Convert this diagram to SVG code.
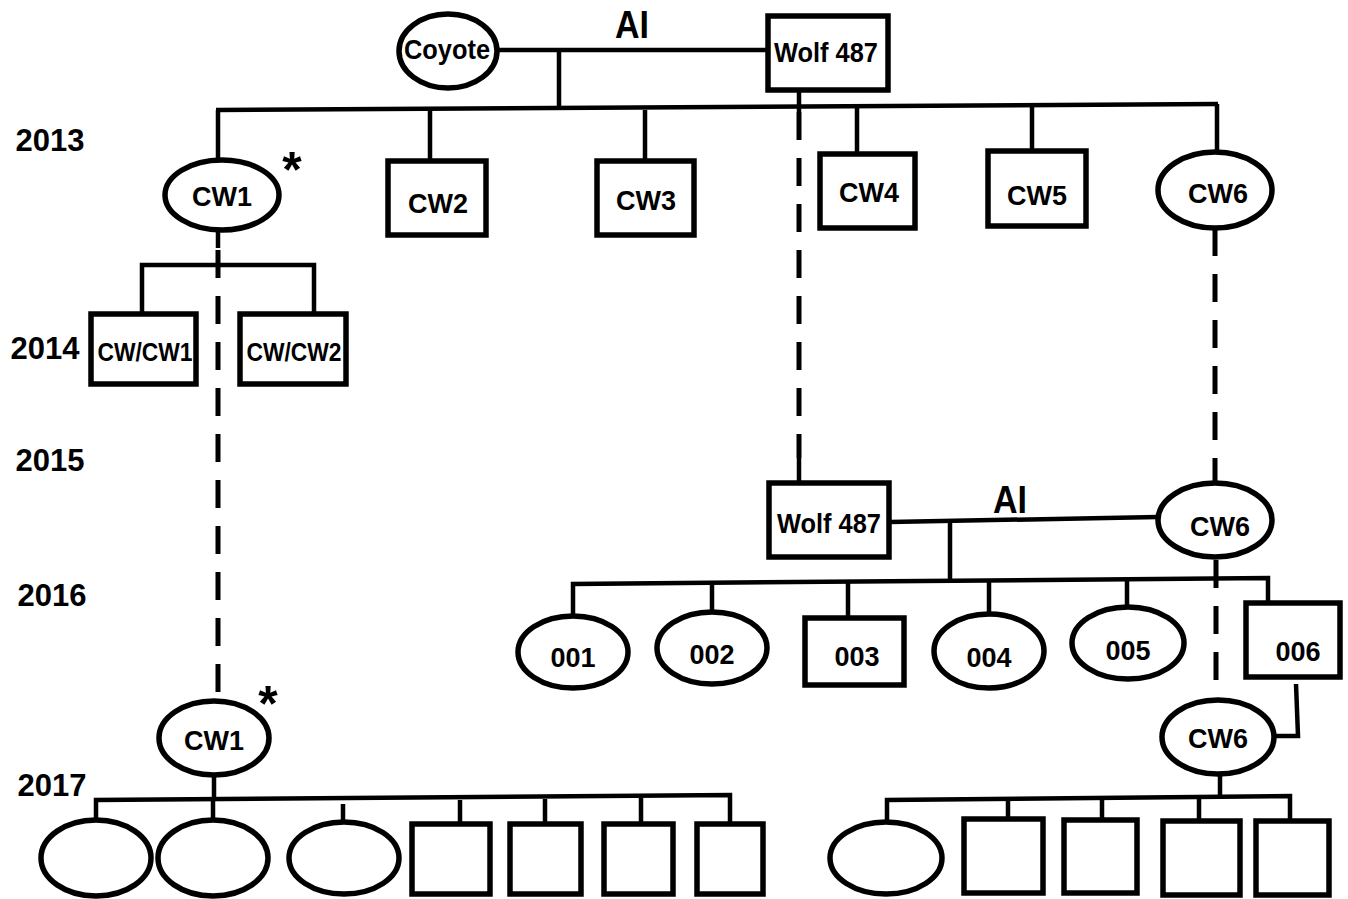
<svg xmlns="http://www.w3.org/2000/svg" width="1348" height="899" viewBox="0 0 1348 899">
<style>
.n{fill:#fff;stroke:#000;stroke-width:5.5}
.l{fill:none;stroke:#000;stroke-width:4.5}
.d{fill:none;stroke:#000;stroke-width:5;stroke-dasharray:28 18}
text{font-family:"Liberation Sans Narrow","Liberation Sans",Arial,sans-serif;font-weight:bold;fill:#000;text-anchor:middle}
.t{font-size:27px}
.y{font-size:31px}
.ai{font-size:38px}
.st{font-size:50px}
.s{font-size:25px}
</style>
<rect width="1348" height="899" fill="#fff"/>
<g id="connectors">
<path class="l" d="M497 50H768"/>
<path class="l" d="M559 50V110"/>
<path class="l" d="M799 90V112"/>
<path class="l" d="M216 110L1218 104"/>
<path class="l" d="M218 110V160M430 110V160M645 110V160M857 107V153M1032 106V150M1217 104V152"/>
<path class="l" d="M218 230V248"/>
<path class="d" d="M218 250V697"/>
<path class="l" d="M142 313V265H314V313"/>
<path class="d" d="M799 112V458"/>
<path class="l" d="M799 458V483"/>
<path class="d" d="M1215 228V483"/>
<path class="l" d="M890 522L1158 517"/>
<path class="l" d="M950 520V582"/>
<path class="l" d="M573 615V584L1268 578V603"/>
<path class="l" d="M712 583V612M848 583V618M989 582V614M1127 581V607"/>
<path class="d" d="M1216 560V700"/>
<path class="l" d="M1296 684L1298 736H1272"/>
<path class="l" d="M214 775V798"/>
<path class="l" d="M96 820V800L730 795V823"/>
<path class="l" d="M213 800V820M343 804V822M460 800V823M545 799V823M641 798V823"/>
<path class="l" d="M1220 775V797"/>
<path class="l" d="M887 822V800L1290 796V820"/>
<path class="l" d="M1008 799V818M1102 798V820M1199 798V820"/>
</g>
<g id="labels">
<text class="ai" x="632" y="38" textLength="34" lengthAdjust="spacingAndGlyphs">AI</text>
<text class="ai" x="1010" y="513" textLength="34" lengthAdjust="spacingAndGlyphs">AI</text>
<text class="y" x="50" y="151">2013</text>
<text class="y" x="45" y="359">2014</text>
<text class="y" x="50" y="471">2015</text>
<text class="y" x="52" y="606">2016</text>
<text class="y" x="52" y="796">2017</text>
<text class="st" x="292" y="187">*</text>
<text class="st" x="268" y="721">*</text>
</g>
<g id="coyote"><ellipse class="n" cx="448" cy="51" rx="49" ry="37"/><text class="t" x="447" y="59" textLength="86" lengthAdjust="spacingAndGlyphs">Coyote</text></g>
<g id="wolf487"><rect class="n" x="768" y="16" width="120" height="74"/><text class="t" x="826" y="62" textLength="104" lengthAdjust="spacingAndGlyphs">Wolf 487</text></g>
<g id="cw1"><ellipse class="n" cx="222" cy="195" rx="57" ry="35"/><text class="t" x="222" y="206">CW1</text></g>
<g id="cw2"><rect class="n" x="388" y="161" width="98" height="74"/><text class="t" x="438" y="213">CW2</text></g>
<g id="cw3"><rect class="n" x="597" y="161" width="97" height="74"/><text class="t" x="646" y="210">CW3</text></g>
<g id="cw4"><rect class="n" x="820" y="154" width="95" height="74"/><text class="t" x="869" y="202">CW4</text></g>
<g id="cw5"><rect class="n" x="988" y="151" width="98" height="75"/><text class="t" x="1037" y="205">CW5</text></g>
<g id="cw6"><ellipse class="n" cx="1215" cy="190" rx="57" ry="38"/><text class="t" x="1218" y="203">CW6</text></g>
<g id="cwcw1"><rect class="n" x="91" y="314" width="105" height="70"/><text class="s" x="145" y="361" textLength="95" lengthAdjust="spacingAndGlyphs">CW/CW1</text></g>
<g id="cwcw2"><rect class="n" x="240" y="314" width="106" height="70"/><text class="s" x="294" y="361" textLength="95" lengthAdjust="spacingAndGlyphs">CW/CW2</text></g>
<g id="wolf487b"><rect class="n" x="769" y="483" width="120" height="74"/><text class="t" x="829" y="533" textLength="104" lengthAdjust="spacingAndGlyphs">Wolf 487</text></g>
<g id="cw6b"><ellipse class="n" cx="1215" cy="520" rx="57" ry="37"/><text class="t" x="1220" y="536">CW6</text></g>
<g id="n001"><ellipse class="n" cx="573" cy="652" rx="55" ry="36"/><text class="t" x="573" y="667">001</text></g>
<g id="n002"><ellipse class="n" cx="712" cy="648" rx="55" ry="36"/><text class="t" x="712" y="664">002</text></g>
<g id="n003"><rect class="n" x="805" y="618" width="99" height="67"/><text class="t" x="857" y="666">003</text></g>
<g id="n004"><ellipse class="n" cx="989" cy="651" rx="55" ry="37"/><text class="t" x="989" y="667">004</text></g>
<g id="n005"><ellipse class="n" cx="1128" cy="643" rx="56" ry="36"/><text class="t" x="1128" y="660">005</text></g>
<g id="n006"><rect class="n" x="1246" y="603" width="94" height="74"/><text class="t" x="1298" y="661">006</text></g>
<g id="cw1b"><ellipse class="n" cx="214" cy="738" rx="55" ry="37"/><text class="t" x="214" y="750">CW1</text></g>
<g id="cw6c"><ellipse class="n" cx="1218" cy="737" rx="56" ry="37"/><text class="t" x="1218" y="748">CW6</text></g>
<g id="l1"><ellipse class="n" cx="96" cy="858" rx="55" ry="38"/></g>
<g id="l2"><ellipse class="n" cx="213" cy="858" rx="55" ry="38"/></g>
<g id="l3"><ellipse class="n" cx="344" cy="858" rx="55" ry="36"/></g>
<g id="l4"><rect class="n" x="412" y="824" width="78" height="70"/></g>
<g id="l5"><rect class="n" x="510" y="824" width="71" height="70"/></g>
<g id="l6"><rect class="n" x="604" y="824" width="69" height="70"/></g>
<g id="l7"><rect class="n" x="697" y="824" width="66" height="70"/></g>
<g id="r1"><ellipse class="n" cx="886" cy="858" rx="56" ry="36"/></g>
<g id="r2"><rect class="n" x="964" y="819" width="79" height="74"/></g>
<g id="r3"><rect class="n" x="1064" y="820" width="73" height="73"/></g>
<g id="r4"><rect class="n" x="1163" y="821" width="77" height="74"/></g>
<g id="r5"><rect class="n" x="1256" y="821" width="73" height="74"/></g>
</svg>
